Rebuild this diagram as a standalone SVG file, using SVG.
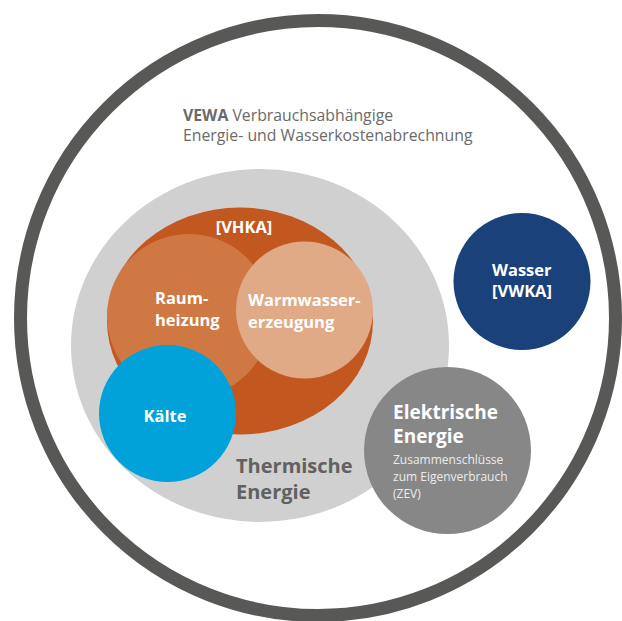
<svg xmlns="http://www.w3.org/2000/svg" width="622" height="621" viewBox="0 0 622 621">
  <style>
    text { font-family: "Open Sans", "Noto Sans", "DejaVu Sans", sans-serif; }
    .title { font-size: 15.8px; fill: #6a6a69; }
    .lbl { font-size: 16.5px; font-weight: 700; fill: #ffffff; }
    .big { font-size: 20px; font-weight: 700; }
    .big2 { font-size: 19px; font-weight: 700; fill: #ffffff; }
    .small { font-size: 12px; fill: #ececec; }
  </style>
  <rect width="622" height="621" fill="#ffffff"/>
  <g id="vewa">
    <circle cx="318" cy="318" r="297.5" fill="none" stroke="#585857" stroke-width="13"/>
    <text class="title" x="183" y="121"><tspan font-weight="700">VEWA</tspan> Verbrauchsabhängige</text>
    <text class="title" x="183" y="141">Energie- und Wasserkostenabrechnung</text>
  </g>
  <g id="thermische-energie">
    <ellipse cx="260" cy="345.5" rx="189" ry="176.5" fill="#d0d0d0"/>
    <text class="big" x="236" y="473" fill="#616161">Thermische</text>
    <text class="big" x="236" y="499" fill="#616161">Energie</text>
  </g>
  <g id="vhka">
    <ellipse cx="240" cy="321" rx="133" ry="113.5" fill="#c2571f"/>
    <text class="lbl" x="244" y="233" text-anchor="middle">[VHKA]</text>
  </g>
  <g id="raumheizung">
    <circle cx="189" cy="316" r="82" fill="#cf7843"/>
    <text class="lbl" x="155" y="304">Raum-</text>
    <text class="lbl" x="155" y="326">heizung</text>
  </g>
  <g id="warmwasser">
    <circle cx="304.5" cy="310" r="68.5" fill="#e0aa87"/>
    <text class="lbl" x="248" y="306">Warmwasser-</text>
    <text class="lbl" x="248" y="328">erzeugung</text>
  </g>
  <g id="kaelte">
    <circle cx="167.5" cy="413.5" r="68.5" fill="#00a2d9"/>
    <text class="lbl" x="165" y="422" text-anchor="middle">Kälte</text>
  </g>
  <g id="wasser">
    <circle cx="522" cy="281.5" r="68.5" fill="#1b417a"/>
    <text class="lbl" x="492" y="276">Wasser</text>
    <text class="lbl" x="492" y="297">[VWKA]</text>
  </g>
  <g id="elektrische-energie">
    <circle cx="447.5" cy="450.5" r="83.5" fill="#878787"/>
    <text class="big2" x="393" y="419">Elektrische</text>
    <text class="big2" x="393" y="443">Energie</text>
    <text class="small" x="393" y="464">Zusammenschlüsse</text>
    <text class="small" x="393" y="481">zum Eigenverbrauch</text>
    <text class="small" x="393" y="498">(ZEV)</text>
  </g>
  <g id="connectors"/>
</svg>
